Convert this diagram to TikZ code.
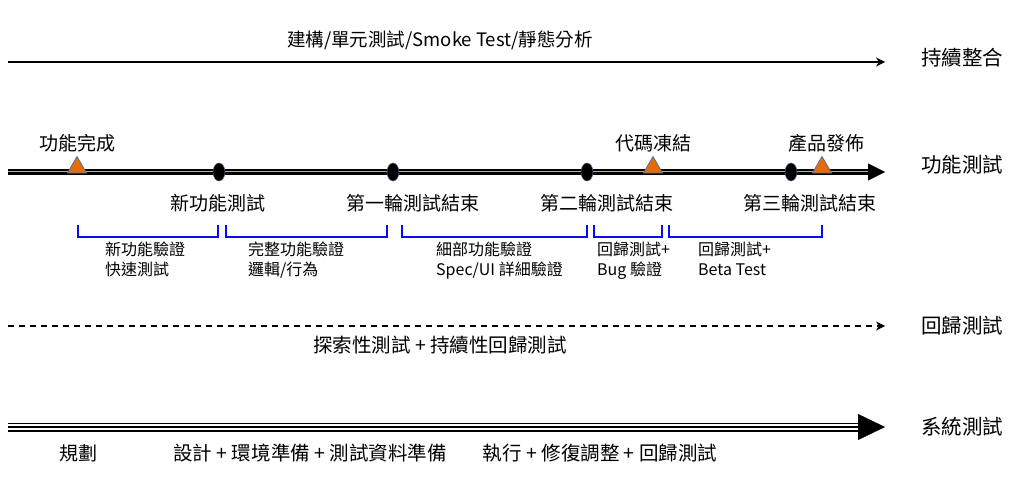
\documentclass[tikz,border=0pt]{standalone}
\usepackage{fontspec}
\setmainfont{Noto Sans CJK TC}
\usepackage{xcolor}
\usetikzlibrary{shapes.geometric, arrows.meta, positioning}
\definecolor{msorange}{RGB}{228,108,10}
\definecolor{msedge}{RGB}{90,110,150}
\definecolor{brblue}{RGB}{10,10,245}
\tikzstyle{track}   = [font=\fontsize{20.5}{24}\selectfont]
\tikzstyle{caption} = [font=\fontsize{19}{22}\selectfont]
\tikzstyle{stage}   = [font=\fontsize{19}{22}\selectfont]
\tikzstyle{phase}   = [font=\fontsize{16}{20}\selectfont, align=left, anchor=north west, inner sep=0pt]
\tikzstyle{release} = [regular polygon, regular polygon sides=3, minimum size=22pt, inner sep=0pt,
                       fill=msorange, draw=msedge, line width=0.8pt]
\tikzstyle{round}   = [ellipse, minimum width=12pt, minimum height=18pt, inner sep=0pt,
                       fill=black, draw=msedge, line width=0.5pt]
\tikzstyle{brace}   = [brblue, line width=1.6pt]

\begin{document}
\begin{tikzpicture}[x=1pt, y=-1pt]
  \useasboundingbox (0,0) rectangle (1024,479);

  \coordinate (ciL) at (8,62);   \coordinate (ciR) at (885,62);
  \coordinate (ftL) at (8,172);  \coordinate (ftR) at (885,172);
  \coordinate (rtL) at (8,326);  \coordinate (rtR) at (885,326);
  \coordinate (stL) at (8,427);  \coordinate (stR) at (885,427);

  \draw [line width=2pt, -{Stealth[length=9pt,width=9pt]}] (ciL) -- (ciR);
  \node (ci) [caption, font=\fontsize{18.5}{22}\selectfont] at (440,40) {建構/單元測試/Smoke Test/靜態分析};
  \node (ciT) [track] at (962,58) {持續整合};

  \draw [line width=6pt, shorten >=10pt] (ftL) -- (ftR);
  \draw [gray!60, line width=2pt, shorten >=10pt] (ftL) -- (ftR);
  \draw [line width=0.4pt, -{Triangle[length=17pt,width=17pt]}] (ftL) -- (ftR);
  \node (ftT) [track] at (962,165) {功能測試};

  \node (d1) [round] at (219,172) {};
  \node (d2) [round] at (393,172) {};
  \node (d3) [round] at (587,172) {};
  \node (d4) [round] at (791,172) {};
  \node (t1) [release] at (77,167.5) {};
  \node (t2) [release] at (653,167.5) {};
  \node (t3) [release] at (822,167.5) {};

  \node (t1l) [stage, above=0pt of t1] {功能完成};
  \node (t2l) [stage, above=0pt of t2] {代碼凍結};
  \node (t3l) [stage, above=0pt of t3, xshift=4pt] {產品發佈};
  \node (d1l) [stage] at (218,203) {新功能測試};
  \node (d2l) [stage] at (413,203) {第一輪測試結束};
  \node (d3l) [stage] at (607,203) {第二輪測試結束};
  \node (d4l) [stage] at (810,203) {第三輪測試結束};

  \draw [brace] (78,225) |- (218,237) -- (218,225);
  \draw [brace] (226,225) |- (387,237) -- (387,225);
  \draw [brace] (402,225) |- (587,237) -- (587,225);
  \draw [brace] (594,225) |- (662,237) -- (662,225);
  \draw [brace] (669,225) |- (822,237) -- (822,225);

  \node (p1) [phase] at (105,242) {新功能驗證\\快速測試};
  \node (p2) [phase] at (248,242) {完整功能驗證\\邏輯/行為};
  \node (p3) [phase] at (436,242) {細部功能驗證\\Spec/UI 詳細驗證};
  \node (p4) [phase] at (597,242) {回歸測試+\\Bug 驗證};
  \node (p5) [phase] at (698,242) {回歸測試+\\Beta Test};

  \draw [line width=2.5pt, dash pattern=on 6pt off 5pt, -{Stealth[length=9pt,width=9pt]}] (rtL) -- (rtR);
  \node (rt) [caption, font=\fontsize{19.5}{22}\selectfont] at (440,345) {探索性測試 + 持續性回歸測試};
  \node (rtT) [track] at (962,326) {回歸測試};

  \draw [line width=9pt, shorten >=20pt] (stL) -- (stR);
  \draw [white, line width=5.5pt, shorten >=20pt] (stL) -- (stR);
  \draw [line width=2pt, shorten >=20pt] (stL) -- (stR);
  \draw [line width=0.4pt, -{Triangle[length=27pt,width=26pt]}] (stL) -- (stR);
  \node (stT) [track] at (962,427) {系統測試};
  \node (s1) [caption] at (78,453) {規劃};
  \node (s2) [caption, font=\fontsize{19.5}{22}\selectfont] at (310,453) {設計 + 環境準備 + 測試資料準備};
  \node (s3) [caption, font=\fontsize{19.5}{22}\selectfont] at (600,453) {執行 + 修復調整 + 回歸測試};
\end{tikzpicture}
\end{document}
